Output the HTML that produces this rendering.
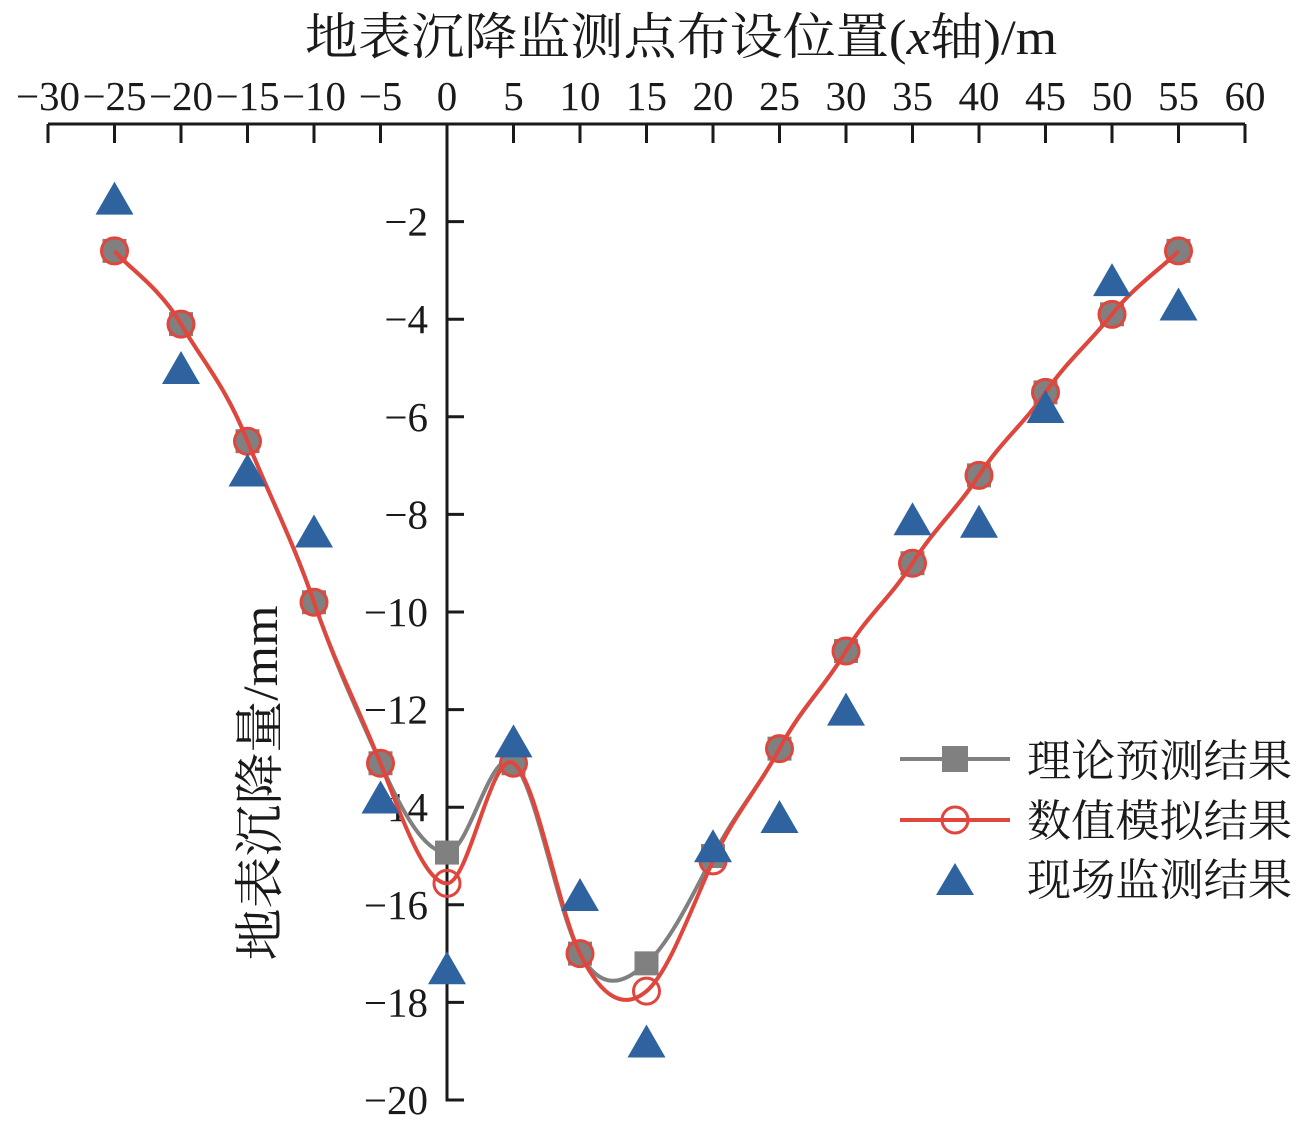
<!DOCTYPE html>
<html><head><meta charset="utf-8"><style>
html,body{margin:0;padding:0;background:#fff}
svg text{font-family:"Liberation Serif","Noto Serif CJK SC",serif;fill:#1a1a1a}
</style></head><body>
<svg id="chart" width="1300" height="1122" viewBox="0 0 1300 1122" xmlns="http://www.w3.org/2000/svg">
<text x="681" y="54" font-size="50" text-anchor="middle" textLength="752" lengthAdjust="spacingAndGlyphs">地表沉降监测点布设位置(<tspan font-style="italic">x</tspan>轴)/m</text>
<text transform="translate(277,783) rotate(-90)" font-size="50" text-anchor="middle" textLength="355" lengthAdjust="spacingAndGlyphs">地表沉降量/mm</text>
<g id="axes"></g>
<g id="series"></g>
<g>
  <g>
    <line x1="900" y1="759" x2="1010" y2="759" stroke="#808080" stroke-width="4"/>
    <rect x="942" y="746" width="26" height="26" fill="#808080"/>
    <text x="1027" y="776" font-size="44" textLength="265" lengthAdjust="spacingAndGlyphs">理论预测结果</text>
  </g>
  <g>
    <line x1="900" y1="820" x2="1010" y2="820" stroke="#e0463c" stroke-width="4"/>
    <circle cx="955" cy="820" r="13" fill="none" stroke="#e0463c" stroke-width="3"/>
    <text x="1027" y="836" font-size="44" textLength="265" lengthAdjust="spacingAndGlyphs">数值模拟结果</text>
  </g>
  <g>
    <polygon points="955,863 974,895 936,895" fill="#2f63a0"/>
    <text x="1027" y="895" font-size="44" textLength="265" lengthAdjust="spacingAndGlyphs">现场监测结果</text>
  </g>
</g>
</svg>
<script>
const xs = [-25,-20,-15,-10,-5,0,5,10,15,20,25,30,35,40,45,50,55];
const theory = [-2.6,-4.1,-6.5,-9.8,-13.1,-14.93,-13.1,-17.0,-17.2,-15.0,-12.8,-10.8,-9.0,-7.2,-5.5,-3.9,-2.6];
const numerical = [-2.6,-4.1,-6.5,-9.8,-13.1,-15.56,-13.1,-17.0,-17.77,-15.1,-12.8,-10.8,-9.0,-7.2,-5.5,-3.9,-2.6];
const field = [-1.53,-5.0,-7.1,-8.35,-13.8,-17.3,-12.65,-15.8,-18.8,-14.8,-14.2,-12.0,-8.1,-8.15,-5.8,-3.2,-3.7];
const xTicks = [-30,-25,-20,-15,-10,-5,0,5,10,15,20,25,30,35,40,45,50,55,60];
const yTicks = [-2,-4,-6,-8,-10,-12,-14,-16,-18,-20];

const NS='http://www.w3.org/2000/svg';
const X = v => 48 + (v + 30) * (1197 / 90);
const Y = v => 124 - v * (976 / 20);
function mk(tag, attrs, parent){const e=document.createElementNS(NS,tag);for(const k in attrs)e.setAttribute(k,attrs[k]);parent.appendChild(e);return e;}
const axes=document.getElementById('axes'), ser=document.getElementById('series');

let e=mk('line',{x1:X(-30),y1:124,x2:X(60),y2:124,stroke:'#1a1a1a','stroke-width':3},axes);


e=mk('line',{x1:X(0),y1:122.5,x2:X(0),y2:Y(-20)+1.5,stroke:'#1a1a1a','stroke-width':3},axes);


xTicks.forEach(t=>{
  const l=mk('line',{x1:X(t),y1:124,x2:X(t),y2:143,stroke:'#1a1a1a','stroke-width':3},axes);
  
  
  const tx=mk('text',{x:X(t),y:110,'font-size':41,'text-anchor':'middle'},axes);
  tx.textContent=(t<0?'\u2212':'')+Math.abs(t);
  
  
});
yTicks.forEach(t=>{
  const l=mk('line',{x1:X(0),y1:Y(t),x2:X(0)+17,y2:Y(t),stroke:'#1a1a1a','stroke-width':3},axes);
  
  
  const tx=mk('text',{x:428,y:Y(t)+14,'font-size':41,'text-anchor':'end'},axes);
  tx.textContent='\u2212'+Math.abs(t);
  
  
});

function spline(vals){
  const p=xs.map((x,i)=>[X(x),Y(vals[i])]);
  const k=1/5;
  let d='M'+p[0][0]+','+p[0][1];
  for(let i=0;i<p.length-1;i++){
    const p0=p[Math.max(0,i-1)],p1=p[i],p2=p[i+1],p3=p[Math.min(p.length-1,i+2)];
    const c1=[p1[0]+(p2[0]-p0[0])/6,p1[1]+(p2[1]-p0[1])*k];
    const c2=[p2[0]-(p3[0]-p1[0])/6,p2[1]-(p3[1]-p1[1])*k];
    d+=' C'+c1+' '+c2+' '+p2;
  }
  return d;
}
e=mk('path',{d:spline(theory),fill:'none',stroke:'#808080','stroke-width':4},ser);


theory.forEach((v,i)=>{
  const r=mk('rect',{x:X(xs[i])-12,y:Y(v)-12,width:24,height:24,fill:'#808080'},ser);
  
  
});
e=mk('path',{d:spline(numerical),fill:'none',stroke:'#e0463c','stroke-width':4},ser);


numerical.forEach((v,i)=>{
  const c=mk('circle',{cx:X(xs[i]),cy:Y(v),r:13,fill:'none',stroke:'#e0463c','stroke-width':3},ser);
  
  
});
field.forEach((v,i)=>{
  const cx=X(xs[i]),cy=Y(v);
  const t=mk('polygon',{points:`${cx},${cy-17} ${cx+19},${cy+16} ${cx-19},${cy+16}`,fill:'#2f63a0'},ser);
  
  
});
</script>
</body></html>
